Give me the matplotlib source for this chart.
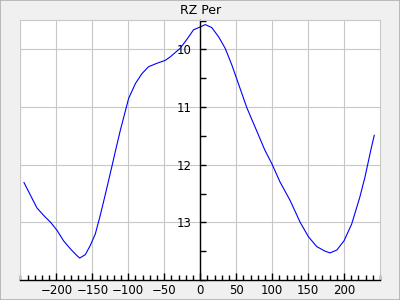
import matplotlib
matplotlib.use('Agg')
import matplotlib.pyplot as plt
from matplotlib.patches import Rectangle
from matplotlib.ticker import MultipleLocator, FixedLocator

# values
x_vals = [-245, -236, -227, -217.6, -208, -199, -190, -180.5, -173.6, -167.6, -159.7,
          -152.8, -145.8, -139, -132, -122.6, -118, -111, -99.5, -90, -81, -71.8, -60,
          -48.6, -41.7, -27.8, -17.6, -9.3, 0, 7, 16, 25.5, 34.7, 44, 53, 64.8, 76.4,
          90, 99.5, 111, 125, 139, 150.5, 162, 173.6, 180.5, 190, 200, 210.6, 222,
          229, 237, 242]
rz_per = [12.31, 12.53, 12.75, 12.88, 13.0, 13.14, 13.32, 13.46, 13.55, 13.62, 13.56,
          13.40, 13.20, 12.88, 12.52, 12.02, 11.77, 11.40, 10.85, 10.59, 10.42, 10.30, 10.24,
          10.19, 10.13, 9.98, 9.81, 9.66, 9.61, 9.57, 9.62, 9.78, 9.98, 10.27, 10.59, 11.01, 11.35,
          11.75, 11.98, 12.30, 12.62, 13.0, 13.25, 13.42, 13.50, 13.53, 13.48, 13.32, 13.03, 12.56,
          12.22, 11.76, 11.49]
x_labels = [-200, -150, -100, -50, 0, 50, 100, 150, 200]
y_labels = [10, 11, 12, 13]

grid_c = '#c8c8c8'
fs = 8.5

fig = plt.figure(figsize=(4, 3), dpi=100, facecolor='#f0f0f0')
fig.patches.append(Rectangle((0, 0), 1, 1, transform=fig.transFigure, fill=False,
                             edgecolor='#b0b0b0', linewidth=1.2))
ax = fig.add_axes([0.051, 0.0667, 0.899, 0.8666])
ax.set_facecolor('white')

ax.plot(x_vals, rz_per, color='blue', linewidth=0.8)

ax.set_xlim(-250, 250)
ax.set_ylim(14.0, 9.49)

# y axis sits at x = 0
ax.spines['left'].set_position(('data', 0))
ax.spines['left'].set_color('black')
ax.spines['left'].set_linewidth(1.0)
ax.spines['bottom'].set_color('black')
ax.spines['bottom'].set_linewidth(1.0)
for s in ['top', 'right']:
    ax.spines[s].set_color(grid_c)
    ax.spines[s].set_linewidth(0.8)
ax.axvline(-250, color=grid_c, linewidth=1.6)

ax.xaxis.set_major_locator(FixedLocator(x_labels))
ax.xaxis.set_minor_locator(MultipleLocator(10))
ax.yaxis.set_major_locator(FixedLocator(y_labels))
ax.yaxis.set_minor_locator(MultipleLocator(0.5))

ax.grid(True, which='major', color=grid_c, linewidth=0.8)
ax.set_axisbelow(True)

ax.tick_params(axis='x', which='major', direction='in', length=5, width=1, pad=3, labelsize=fs)
ax.tick_params(axis='x', which='minor', direction='in', length=3.5, width=1)
ax.tick_params(axis='y', which='major', direction='in', length=4.5, width=1, pad=6, labelsize=fs)
ax.tick_params(axis='y', which='minor', direction='in', length=4.5, width=1)

ax.set_title('RZ Per', fontsize=9, pad=4)

fig.savefig('out.png', dpi=100, facecolor=fig.get_facecolor())
